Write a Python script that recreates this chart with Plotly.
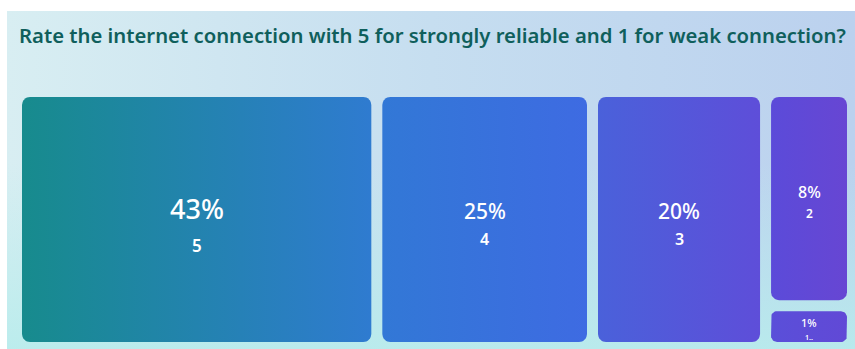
import math
import plotly.graph_objects as go

# ---------------- data ----------------
title = "Rate the internet connection with 5 for strongly reliable and 1 for weak connection?"
categories = ["5", "4", "3", "2", "1"]
shares = [43.1, 25.8, 20.7, 8.7, 1.7]  # share of responses (%), estimated from tile areas

# ---------------- styles ----------------
tile_colors = [("#178b8d", "#2f7bd0"), ("#3278d6", "#3e6be2"), ("#4a61da", "#5e4ed9"),
               ("#5b4bd9", "#6746d3"), ("#5a4fd9", "#6149d6")]
pct_sizes = [27, 21, 21, 16, 11]
lab_sizes = [17, 16, 16, 12, 7]
FONT = "Segoe UI, Noto Sans, sans-serif"

W, H = 855, 349
AREA = (22, 97, 847, 342)
GAP = 11


def squarify(values, x, y, w, h):
    total = sum(values)
    scale = w * h / total
    areas = [v * scale for v in values]
    rects = []
    i = 0
    while i < len(areas):
        short = min(w, h)

        def worst(r):
            s = sum(r)
            return max(max(short * short * a / (s * s), s * s / (short * short * a)) for a in r)

        row = [areas[i]]
        j = i + 1
        while j < len(areas) and worst(row + [areas[j]]) <= worst(row):
            row.append(areas[j])
            j += 1
        s = sum(row)
        if w >= h:
            cw = s / h
            yy = y
            for a in row:
                rh = a / cw
                rects.append((x, yy, cw, rh))
                yy += rh
            x += cw
            w -= cw
        else:
            rh = s / w
            xx = x
            for a in row:
                rw = a / rh
                rects.append((xx, y, rw, rh))
                xx += rw
            y += rh
            h -= rh
        i = j
    return rects


def rounded(x0, y0, x1, y1, r):
    xs, ys = [], []
    corners = [(x1 - r, y0 + r, -90, 0), (x1 - r, y1 - r, 0, 90),
               (x0 + r, y1 - r, 90, 180), (x0 + r, y0 + r, 180, 270)]
    for cx, cy, a0, a1 in corners:
        for k in range(9):
            t = math.radians(a0 + (a1 - a0) * k / 8)
            xs.append(cx + r * math.cos(t))
            ys.append(cy + r * math.sin(t))
    xs.append(xs[0])
    ys.append(ys[0])
    return xs, ys


fig = go.Figure()

# background panel
bx, by = rounded(7, 11, 855, 349, 0.01)
fig.add_trace(go.Scatter(x=bx, y=by, mode="lines", line=dict(width=0), fill="toself",
                         fillgradient=dict(type="horizontal",
                                           colorscale=[[0, "#d8eef2"], [0.5, "#c6def0"], [1, "#bbd1ee"]]),
                         hoverinfo="skip", showlegend=False))
fig.add_trace(go.Scatter(x=bx, y=by, mode="lines", line=dict(width=0), fill="toself",
                         fillgradient=dict(type="vertical",
                                           colorscale=[[0, "rgba(184,236,236,0.9)"], [0.55, "rgba(184,236,236,0)"],
                                                       [1, "rgba(184,236,236,0)"]]),
                         hoverinfo="skip", showlegend=False))

x0, y0, x1, y1 = AREA
rects = squarify(shares, x0, y0, x1 - x0 + GAP, y1 - y0 + GAP)

annotations = [dict(text=title, x=17, y=35, xref="x", yref="y", xanchor="left", yanchor="middle",
                    showarrow=False, font=dict(family=FONT, size=20.3, color="#0f5f5c", weight=600))]

for i, (rx, ry, rw, rh) in enumerate(rects):
    ex, ey = rx + rw - GAP, ry + rh - GAP
    r = 8 if min(rw, rh) > 60 else 6
    xs, ys = rounded(rx, ry, ex, ey, r)
    c0, c1 = tile_colors[i]
    fig.add_trace(go.Scatter(x=xs, y=ys, mode="lines", line=dict(width=0), fill="toself",
                             fillgradient=dict(type="horizontal", colorscale=[[0, c0], [1, c1]]),
                             hoverinfo="skip", showlegend=False))
    cx, cy = (rx + ex) / 2, (ry + ey) / 2
    ps, ls = pct_sizes[i], lab_sizes[i]
    label = categories[i] + ("‥" if (ey - ry) < 40 else "")
    annotations.append(dict(text=f"{int(shares[i])}%", x=cx, y=cy - 0.4 * ps, xref="x", yref="y",
                            showarrow=False, xanchor="center", yanchor="middle",
                            font=dict(family=FONT, size=ps, color="white", weight=500)))
    annotations.append(dict(text=label, x=cx, y=cy + 0.95 * ps, xref="x", yref="y",
                            showarrow=False, xanchor="center", yanchor="middle",
                            font=dict(family=FONT, size=ls, color="white", weight=600)))

fig.update_layout(
    width=W, height=H, autosize=False,
    margin=dict(l=0, r=0, t=0, b=0),
    paper_bgcolor="white", plot_bgcolor="rgba(0,0,0,0)",
    xaxis=dict(range=[0, W], visible=False, fixedrange=True),
    yaxis=dict(range=[H, 0], visible=False, fixedrange=True),
    annotations=annotations,
    hovermode=False,
)

fig.write_html("out.html")
